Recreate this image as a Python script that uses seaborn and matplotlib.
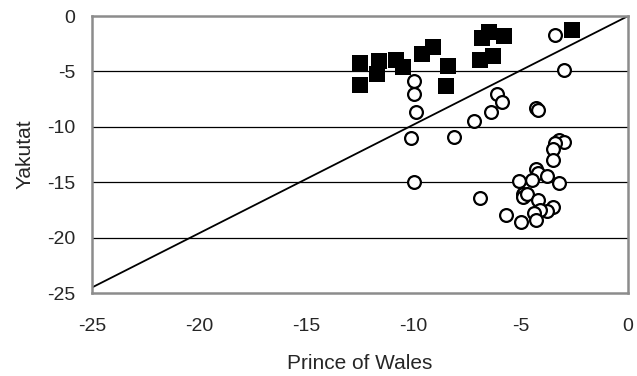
import numpy as np
import pandas as pd
import matplotlib
matplotlib.use("Agg")
import matplotlib.pyplot as plt
import seaborn as sns

# squares (filled) - Prince of Wales vs Yakutat
sq_x = [-12.5, -12.5, -11.7, -11.6, -10.8, -10.5, -9.6, -9.1, -8.4, -8.5,
        -6.8, -6.5, -5.8, -6.9, -6.3, -2.6]
sq_y = [-4.2, -6.2, -5.2, -4.1, -4.0, -4.6, -3.4, -2.8, -4.5, -6.3,
        -2.0, -1.4, -1.8, -4.0, -3.6, -1.3]

# circles (open)
ci_x = [-3.4, -3.0, -10.0, -10.0, -9.9, -10.1, -8.1, -7.2, -6.4, -6.1,
        -5.9, -4.3, -4.2, -10.0, -6.9,
        -3.3, -3.2, -3.0, -3.4, -3.5, -3.5,
        -4.3, -4.2, -3.8, -4.5, -5.1, -3.2,
        -4.9, -4.9, -4.7, -4.2, -3.5, -3.8, -4.1, -4.4, -4.3, -5.0, -5.7]
ci_y = [-1.7, -4.9, -5.9, -7.0, -8.7, -11.0, -10.9, -9.5, -8.7, -7.0,
        -7.8, -8.3, -8.5, -15.0, -16.4,
        -11.4, -11.2, -11.4, -11.5, -12.0, -13.0,
        -13.8, -14.2, -14.4, -14.8, -14.9, -15.1,
        -16.1, -16.3, -16.1, -16.6, -17.2, -17.6, -17.5, -17.8, -18.4, -18.6, -18.0]

# reference line
line_x = [-25, 0]
line_y = [-24.5, 0]

ticks = [-25, -20, -15, -10, -5, 0]
tick_labels = ["-25", "-20", "-15", "-10", "-5", "0"]

sns.set_style("white")
plt.rcParams["font.family"] = ["Liberation Sans", "DejaVu Sans"]

fig = plt.figure(figsize=(6.37, 3.76), dpi=100)
ax = fig.add_axes([0.1444, 0.2207, 0.8416, 0.7367])

for yv in ticks[1:-1]:
    ax.axhline(yv, color="black", lw=0.9, zorder=1)

sns.lineplot(x=line_x, y=line_y, ax=ax, color="black", lw=1.3, zorder=2)
sns.scatterplot(x=ci_x, y=ci_y, ax=ax, marker="o", s=85, facecolor="white",
                edgecolor="black", linewidth=1.6, zorder=3)
sns.scatterplot(x=sq_x, y=sq_y, ax=ax, marker="s", s=120, color="black",
                edgecolor="black", linewidth=0, zorder=4)

ax.set_xlim(-25, 0)
ax.set_ylim(-25, 0)
ax.set_xticks(ticks)
ax.set_yticks(ticks)
ax.set_xticklabels(tick_labels)
ax.set_yticklabels(tick_labels)

for s in ax.spines.values():
    s.set_color("#8c8c8c")
    s.set_linewidth(1.8)
    s.set_visible(True)

ax.tick_params(axis="x", direction="out", length=5, width=1, color="#555555",
               labelsize=14, pad=13)
ax.tick_params(axis="y", length=0, labelsize=14, pad=12)
ax.set_xlabel("Prince of Wales", fontsize=15, labelpad=14)
ax.set_ylabel("Yakutat", fontsize=15, labelpad=9)

fig.savefig("out.png", dpi=100)
